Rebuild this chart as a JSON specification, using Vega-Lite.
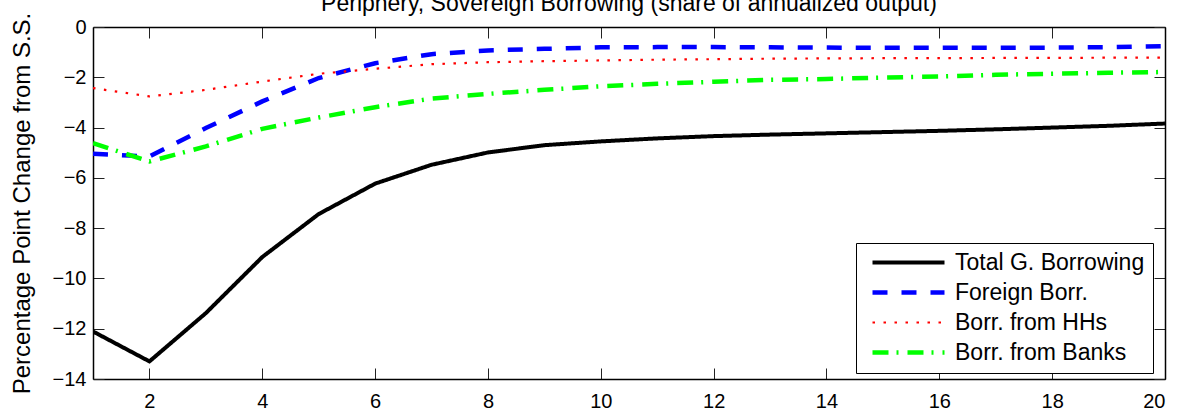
{
  "$schema": "https://vega.github.io/schema/vega-lite/v6.json",
  "width": 1072,
  "height": 352,
  "autosize": {"type": "none"},
  "padding": {"left": 93, "top": 27, "right": 14, "bottom": 34},
  "background": "white",
  "config": {
    "font": "Liberation Sans",
    "view": {"stroke": null},
    "axis": {"grid": false, "domainColor": "black", "domainWidth": 1.5, "tickColor": "#222222", "tickWidth": 1, "tickSize": -11, "labelColor": "black", "labelFontSize": 20, "labelFont": "Liberation Sans", "titleFont": "Liberation Sans", "titleColor": "black", "titleFontWeight": "normal"}
  },
  "title": {"text": "Periphery, Sovereign Borrowing (share of annualized output)", "fontSize": 23, "fontWeight": "normal", "font": "Liberation Sans", "color": "black", "baseline": "alphabetic", "offset": 0, "dy": 22, "anchor": "middle"},
  "data": {"values": [
    {"x": 1, "s": "Total G. Borrowing", "v": -12.11}, {"x": 2, "s": "Total G. Borrowing", "v": -13.30}, {"x": 3, "s": "Total G. Borrowing", "v": -11.38}, {"x": 4, "s": "Total G. Borrowing", "v": -9.15}, {"x": 5, "s": "Total G. Borrowing", "v": -7.44}, {"x": 6, "s": "Total G. Borrowing", "v": -6.23}, {"x": 7, "s": "Total G. Borrowing", "v": -5.48}, {"x": 8, "s": "Total G. Borrowing", "v": -4.99}, {"x": 9, "s": "Total G. Borrowing", "v": -4.70}, {"x": 10, "s": "Total G. Borrowing", "v": -4.55},
    {"x": 11, "s": "Total G. Borrowing", "v": -4.43}, {"x": 12, "s": "Total G. Borrowing", "v": -4.34}, {"x": 13, "s": "Total G. Borrowing", "v": -4.28}, {"x": 14, "s": "Total G. Borrowing", "v": -4.23}, {"x": 15, "s": "Total G. Borrowing", "v": -4.18}, {"x": 16, "s": "Total G. Borrowing", "v": -4.13}, {"x": 17, "s": "Total G. Borrowing", "v": -4.07}, {"x": 18, "s": "Total G. Borrowing", "v": -4.00}, {"x": 19, "s": "Total G. Borrowing", "v": -3.93}, {"x": 20, "s": "Total G. Borrowing", "v": -3.84},
    {"x": 1, "s": "Foreign Borr.", "v": -5.04}, {"x": 2, "s": "Foreign Borr.", "v": -5.15}, {"x": 3, "s": "Foreign Borr.", "v": -4.02}, {"x": 4, "s": "Foreign Borr.", "v": -2.96}, {"x": 5, "s": "Foreign Borr.", "v": -2.03}, {"x": 6, "s": "Foreign Borr.", "v": -1.44}, {"x": 7, "s": "Foreign Borr.", "v": -1.08}, {"x": 8, "s": "Foreign Borr.", "v": -0.93}, {"x": 9, "s": "Foreign Borr.", "v": -0.87}, {"x": 10, "s": "Foreign Borr.", "v": -0.81},
    {"x": 11, "s": "Foreign Borr.", "v": -0.80}, {"x": 12, "s": "Foreign Borr.", "v": -0.80}, {"x": 13, "s": "Foreign Borr.", "v": -0.81}, {"x": 14, "s": "Foreign Borr.", "v": -0.82}, {"x": 15, "s": "Foreign Borr.", "v": -0.83}, {"x": 16, "s": "Foreign Borr.", "v": -0.83}, {"x": 17, "s": "Foreign Borr.", "v": -0.83}, {"x": 18, "s": "Foreign Borr.", "v": -0.82}, {"x": 19, "s": "Foreign Borr.", "v": -0.80}, {"x": 20, "s": "Foreign Borr.", "v": -0.76},
    {"x": 1, "s": "Borr. from HHs", "v": -2.43}, {"x": 2, "s": "Borr. from HHs", "v": -2.76}, {"x": 3, "s": "Borr. from HHs", "v": -2.50}, {"x": 4, "s": "Borr. from HHs", "v": -2.17}, {"x": 5, "s": "Borr. from HHs", "v": -1.86}, {"x": 6, "s": "Borr. from HHs", "v": -1.66}, {"x": 7, "s": "Borr. from HHs", "v": -1.48}, {"x": 8, "s": "Borr. from HHs", "v": -1.40}, {"x": 9, "s": "Borr. from HHs", "v": -1.36}, {"x": 10, "s": "Borr. from HHs", "v": -1.33},
    {"x": 11, "s": "Borr. from HHs", "v": -1.30}, {"x": 12, "s": "Borr. from HHs", "v": -1.28}, {"x": 13, "s": "Borr. from HHs", "v": -1.26}, {"x": 14, "s": "Borr. from HHs", "v": -1.25}, {"x": 15, "s": "Borr. from HHs", "v": -1.24}, {"x": 16, "s": "Borr. from HHs", "v": -1.24}, {"x": 17, "s": "Borr. from HHs", "v": -1.23}, {"x": 18, "s": "Borr. from HHs", "v": -1.23}, {"x": 19, "s": "Borr. from HHs", "v": -1.22}, {"x": 20, "s": "Borr. from HHs", "v": -1.22},
    {"x": 1, "s": "Borr. from Banks", "v": -4.62}, {"x": 2, "s": "Borr. from Banks", "v": -5.35}, {"x": 3, "s": "Borr. from Banks", "v": -4.75}, {"x": 4, "s": "Borr. from Banks", "v": -4.05}, {"x": 5, "s": "Borr. from Banks", "v": -3.60}, {"x": 6, "s": "Borr. from Banks", "v": -3.19}, {"x": 7, "s": "Borr. from Banks", "v": -2.85}, {"x": 8, "s": "Borr. from Banks", "v": -2.66}, {"x": 9, "s": "Borr. from Banks", "v": -2.50}, {"x": 10, "s": "Borr. from Banks", "v": -2.36},
    {"x": 11, "s": "Borr. from Banks", "v": -2.26}, {"x": 12, "s": "Borr. from Banks", "v": -2.18}, {"x": 13, "s": "Borr. from Banks", "v": -2.10}, {"x": 14, "s": "Borr. from Banks", "v": -2.07}, {"x": 15, "s": "Borr. from Banks", "v": -2.01}, {"x": 16, "s": "Borr. from Banks", "v": -1.97}, {"x": 17, "s": "Borr. from Banks", "v": -1.90}, {"x": 18, "s": "Borr. from Banks", "v": -1.86}, {"x": 19, "s": "Borr. from Banks", "v": -1.82}, {"x": 20, "s": "Borr. from Banks", "v": -1.79}
  ]},
  "layer": [
    {
      "mark": {"type": "line", "clip": true},
      "encoding": {
        "x": {"field": "x", "type": "quantitative", "scale": {"domain": [1, 20], "nice": false, "zero": false},
              "axis": {"orient": "bottom", "title": null, "values": [2, 4, 6, 8, 10, 12, 14, 16, 18, 20], "labelPadding": 23}},
        "y": {"field": "v", "type": "quantitative", "scale": {"domain": [-14, 0], "nice": false, "zero": false},
              "axis": {"orient": "left", "title": "Percentage Point Change from S.S.", "titleFontSize": 24, "titlePadding": 18, "values": [-14, -12, -10, -8, -6, -4, -2, 0], "labelPadding": 18}},
        "color": {"field": "s", "type": "nominal",
                  "scale": {"domain": ["Total G. Borrowing", "Foreign Borr.", "Borr. from HHs", "Borr. from Banks"], "range": ["#000000", "#0000FF", "#FF0000", "#00FF00"]},
                  "legend": {"title": null, "orient": "none", "legendX": 763, "legendY": 216, "symbolType": "stroke", "symbolSize": 5184, "symbolStrokeWidth": 4, "clipHeight": 23, "labelFontSize": 23, "labelFont": "Liberation Sans", "labelColor": "black", "labelOffset": 8, "symbolOffset": 6, "rowPadding": 6, "padding": 8, "fillColor": "white", "strokeColor": "black", "labelLimit": 400,
                             "encode": {"symbols": {"update": {"strokeWidth": {"signal": "datum.value == 'Borr. from HHs' ? 2.2 : 4"}}}}}},
        "strokeDash": {"field": "s", "type": "nominal",
                       "scale": {"domain": ["Total G. Borrowing", "Foreign Borr.", "Borr. from HHs", "Borr. from Banks"], "range": [[1, 0], [15, 14], [2.5, 8.5], [16, 8, 2, 9]]}},
        "strokeWidth": {"field": "s", "type": "nominal", "legend": null,
                        "scale": {"type": "ordinal", "domain": ["Total G. Borrowing", "Foreign Borr.", "Borr. from HHs", "Borr. from Banks"], "range": [4, 4.5, 2.2, 4.5]}}
      }
    },
    {
      "mark": {"type": "line", "opacity": 0},
      "encoding": {
        "x": {"field": "x", "type": "quantitative", "axis": {"orient": "top", "title": null, "labels": false, "values": [2, 4, 6, 8, 10, 12, 14, 16, 18, 20]}},
        "y": {"field": "v", "type": "quantitative", "axis": {"orient": "right", "title": null, "labels": false, "values": [-14, -12, -10, -8, -6, -4, -2, 0]}},
        "detail": {"field": "s", "type": "nominal"}
      }
    }
  ],
  "resolve": {"axis": {"x": "independent", "y": "independent"}}
}
